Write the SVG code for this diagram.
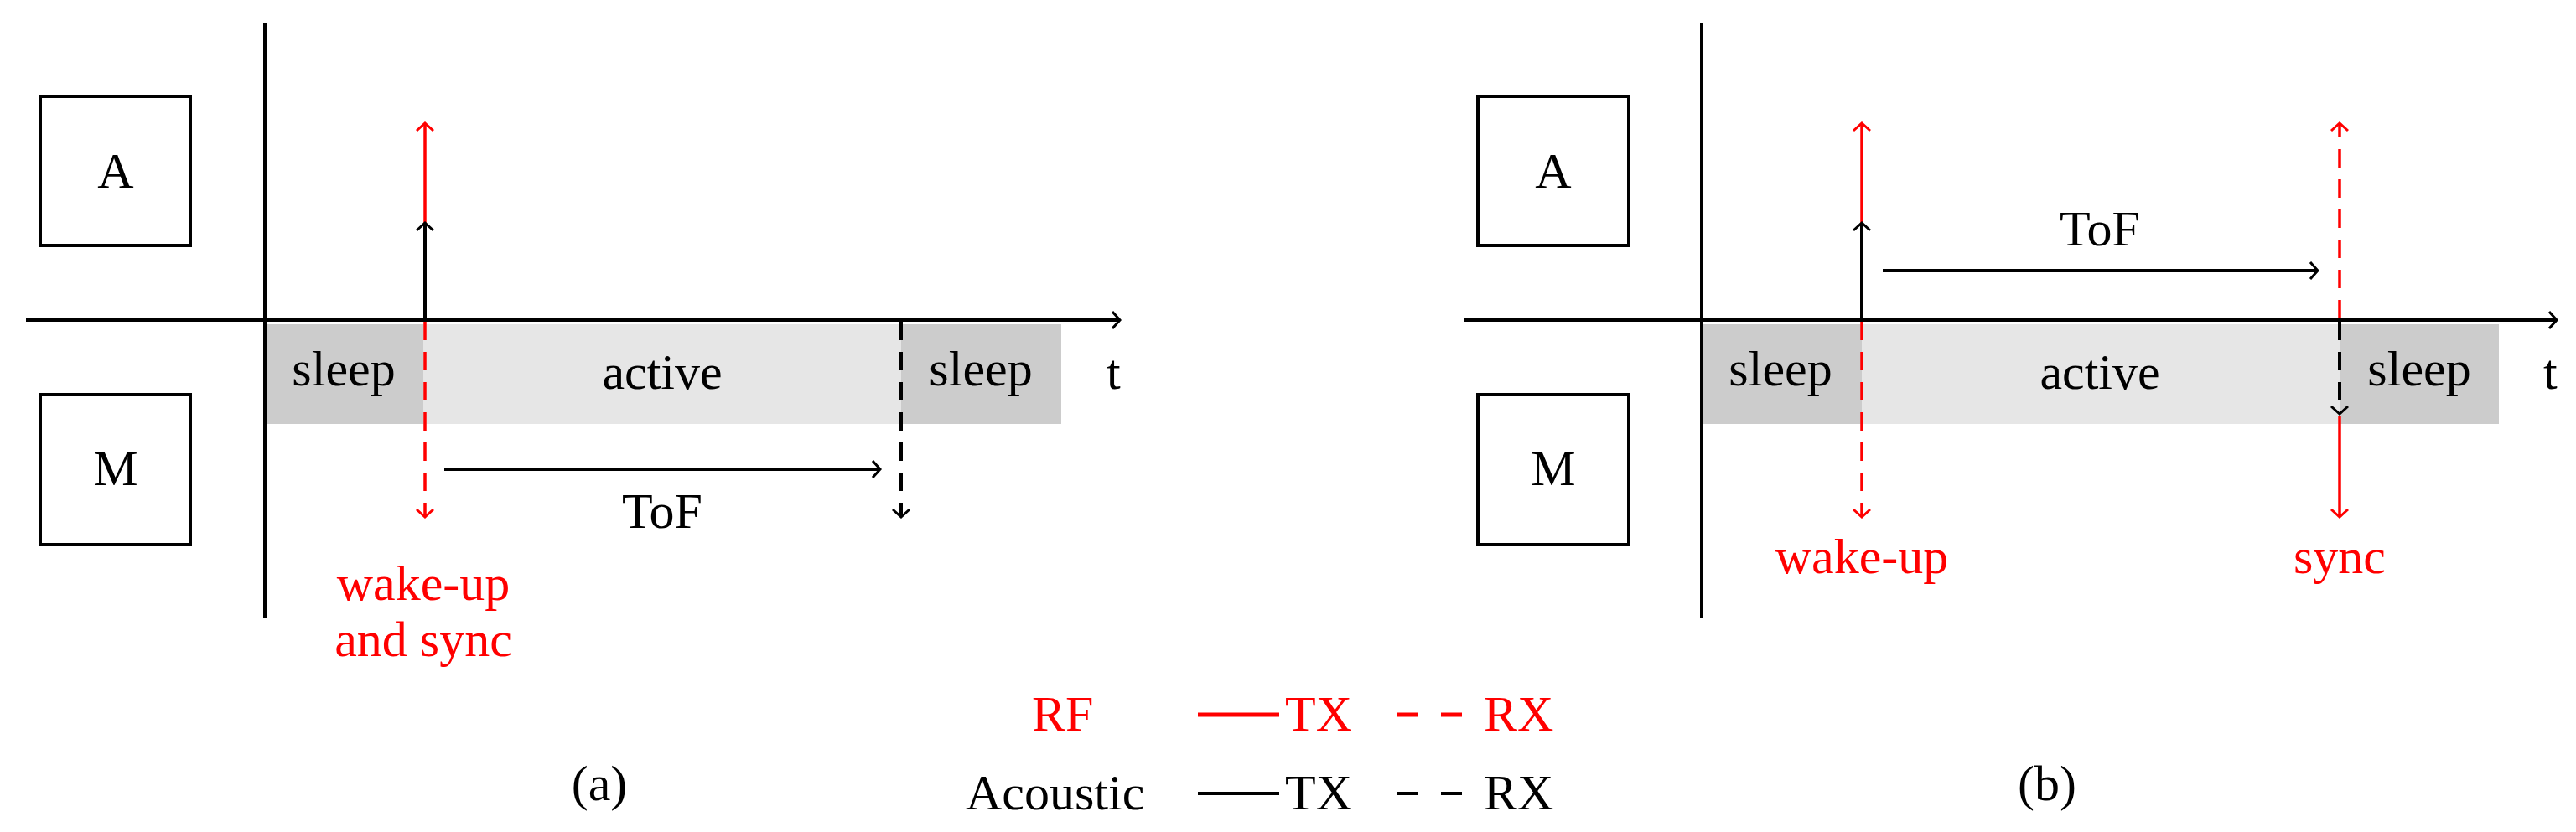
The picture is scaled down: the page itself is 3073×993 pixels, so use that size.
<svg xmlns="http://www.w3.org/2000/svg" width="3073" height="993" viewBox="0 0 3073 993">
<defs>
<style>
text{font-family:"Liberation Serif","DejaVu Serif",serif;font-size:60px}
.m{text-anchor:middle}
.r{fill:#ff0000}
.k{stroke:#000;stroke-width:4;fill:none}
.red{stroke:#ff0000;stroke-width:3.5;fill:none}
.d{stroke-dasharray:22 14}
.box{fill:#fff;stroke:#000;stroke-width:4}
</style>
<marker id="ak" viewBox="-12 -12 14 24" markerWidth="14" markerHeight="24" refX="0" refY="0" orient="auto" markerUnits="userSpaceOnUse"><path d="M-9,-10 L0,0 L-9,10" fill="none" stroke="#000" stroke-width="3"/></marker>
<marker id="ar" viewBox="-12 -12 14 24" markerWidth="14" markerHeight="24" refX="0" refY="0" orient="auto" markerUnits="userSpaceOnUse"><path d="M-9,-10 L0,0 L-9,10" fill="none" stroke="#ff0000" stroke-width="3"/></marker>
</defs>
<rect width="3073" height="993" fill="#fff"/>
<g id="panel-a">
<g id="bands-a">
<rect x="316" y="387" width="189" height="119" fill="#cccccc"/>
<rect x="505" y="387" width="570" height="119" fill="#e6e6e6"/>
<rect x="1075" y="387" width="191" height="119" fill="#cccccc"/>
<text class="m" x="410" y="460">sleep</text>
<text class="m" x="790" y="464">active</text>
<text class="m" x="1170" y="460">sleep</text>
<text x="1320" y="464">t</text>
</g>
<g id="node-A-a"><rect class="box" x="48" y="115" width="179" height="178"/><text class="m" x="138" y="224">A</text></g>
<g id="node-M-a"><rect class="box" x="48" y="471" width="179" height="179"/><text class="m" x="138" y="579">M</text></g>
<g id="connectors-a">
<line class="k" x1="316" y1="27" x2="316" y2="738"/>
<line class="k" x1="31" y1="382" x2="1336" y2="382" marker-end="url(#ak)"/>
<line class="red" x1="507" y1="382" x2="507" y2="147" marker-end="url(#ar)"/>
<line class="k" x1="507" y1="382" x2="507" y2="266" stroke-width="3.5" marker-end="url(#ak)"/>
<line class="red d" x1="507" y1="384" x2="507" y2="617" marker-end="url(#ar)"/>
<line class="k d" x1="1075" y1="384" x2="1075" y2="617" stroke-width="3.5" marker-end="url(#ak)"/>
<line class="k" x1="530" y1="560" x2="1050" y2="560" stroke-width="3.5" marker-end="url(#ak)"/>
</g>
<text class="m" x="790" y="630">ToF</text>
<text class="m r" x="505" y="716">wake-up</text>
<text class="m r" x="505" y="783">and sync</text>
<text class="m" x="715" y="955">(a)</text>
</g>
<g id="panel-b">
<g id="bands-b">
<rect x="2030" y="387" width="191" height="119" fill="#cccccc"/>
<rect x="2221" y="387" width="570" height="119" fill="#e6e6e6"/>
<rect x="2791" y="387" width="190" height="119" fill="#cccccc"/>
<text class="m" x="2124" y="460">sleep</text>
<text class="m" x="2505" y="464">active</text>
<text class="m" x="2886" y="460">sleep</text>
<text x="3034" y="464">t</text>
</g>
<g id="node-A-b"><rect class="box" x="1763" y="115" width="180" height="178"/><text class="m" x="1853" y="224">A</text></g>
<g id="node-M-b"><rect class="box" x="1763" y="471" width="180" height="179"/><text class="m" x="1853" y="579">M</text></g>
<g id="connectors-b">
<line class="k" x1="2030" y1="27" x2="2030" y2="738"/>
<line class="k" x1="1746" y1="382" x2="3050" y2="382" marker-end="url(#ak)"/>
<line class="red" x1="2221" y1="382" x2="2221" y2="147" marker-end="url(#ar)"/>
<line class="k" x1="2221" y1="382" x2="2221" y2="266" stroke-width="3.5" marker-end="url(#ak)"/>
<line class="red d" x1="2221" y1="384" x2="2221" y2="617" marker-end="url(#ar)"/>
<line class="k" x1="2246" y1="323" x2="2765" y2="323" stroke-width="3.5" marker-end="url(#ak)"/>
<line class="red d" x1="2791" y1="380" x2="2791" y2="147" marker-end="url(#ar)"/>
<line class="k d" x1="2791" y1="384" x2="2791" y2="494" stroke-width="3.5" marker-end="url(#ak)"/>
<line class="red" x1="2791" y1="496" x2="2791" y2="617" marker-end="url(#ar)"/>
</g>
<text class="m" x="2505" y="293">ToF</text>
<text class="m r" x="2221" y="684">wake-up</text>
<text class="m r" x="2791" y="684">sync</text>
<text class="m" x="2442" y="955">(b)</text>
</g>
<g id="legend">
<text class="r" x="1231" y="872">RF</text>
<line x1="1429" y1="853" x2="1526" y2="853" stroke="#ff0000" stroke-width="5"/>
<text class="r" x="1533" y="872">TX</text>
<line x1="1667" y1="853" x2="1744" y2="853" stroke="#ff0000" stroke-width="5" stroke-dasharray="25 27"/>
<text class="r" x="1770" y="872">RX</text>
<text x="1152" y="966">Acoustic</text>
<line x1="1429" y1="947" x2="1526" y2="947" stroke="#000" stroke-width="4"/>
<text x="1533" y="966">TX</text>
<line x1="1667" y1="947" x2="1744" y2="947" stroke="#000" stroke-width="4" stroke-dasharray="25 27"/>
<text x="1770" y="966">RX</text>
</g>
</svg>
